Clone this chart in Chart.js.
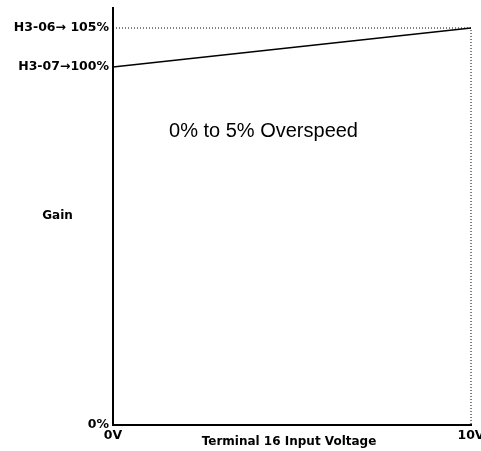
<!DOCTYPE html>
<html>
<head>
<meta charset="utf-8">
<script src="https://cdn.jsdelivr.net/npm/chart.js@4/dist/chart.umd.min.js"></script>
<style>
  html, body { margin: 0; padding: 0; background: #fff; }
  canvas { display: block; }
</style>
</head>
<body>
<canvas id="c" width="481" height="451"></canvas>
<script>
// ---- data ----
const voltage = [0, 10];            // Terminal 16 input voltage (V)
const gain = [100, 105];            // gain (%)
const refVoltage = [0, 10, 10];     // dotted guide
const refGain = [105, 105, 0];
const yTickValues = [0, 100, 105];
const yTickLabels = ['0%', 'H3-07\u2192100%', 'H3-06\u2192 105%'];
const xTickValues = [0, 10];
const xTickLabels = ['0V', '10V'];
const xTitle = 'Terminal 16 Input Voltage';
const yTitle = 'Gain';
const note = '0% to 5% Overspeed';

// ---- piecewise (broken) value axis: value -> fraction of axis height ----
const yStops = [[0, 0], [100, 0.8585], [105, 0.952], [107.56, 1]];

class BrokenScale extends Chart.LinearScale {
  getPixelForValue(v) {
    let f = 0;
    for (let i = 1; i < yStops.length; i++) {
      const [v0, f0] = yStops[i - 1], [v1, f1] = yStops[i];
      if (v <= v1 || i === yStops.length - 1) {
        f = f0 + (v - v0) / (v1 - v0) * (f1 - f0);
        break;
      }
    }
    return this.getPixelForDecimal(f);
  }
  getValueForPixel(p) {
    const f = this.getDecimalForPixel(p);
    for (let i = 1; i < yStops.length; i++) {
      const [v0, f0] = yStops[i - 1], [v1, f1] = yStops[i];
      if (f <= f1 || i === yStops.length - 1) {
        return v0 + (f - f0) / (f1 - f0) * (v1 - v0);
      }
    }
    return 0;
  }
}
BrokenScale.id = 'broken';
BrokenScale.defaults = Chart.LinearScale.defaults;
Chart.register(BrokenScale);

const labelFont = { family: 'DejaVu Sans', size: 12.5, weight: 'bold' };

const textPlugin = {
  id: 'texts',
  afterDraw(chart) {
    const ctx = chart.ctx;
    ctx.save();
    ctx.fillStyle = '#000';
    ctx.textAlign = 'center';
    ctx.textBaseline = 'middle';
    ctx.font = 'bold 12px "DejaVu Sans"';
    ctx.fillText(yTitle, 57.5, 216);
    ctx.fillText(xTitle, 289, 442);
    ctx.font = '20px "Liberation Sans", Arial';
    ctx.fillText(note, 263.5, 131);
    ctx.restore();
  }
};

new Chart(document.getElementById('c'), {
  type: 'line',
  data: {
    datasets: [
      {
        data: voltage.map((x, i) => ({ x, y: gain[i] })),
        borderColor: '#000',
        borderWidth: 1.3,
        pointRadius: 0,
        fill: false,
        clip: false
      },
      {
        data: refVoltage.map((x, i) => ({ x, y: refGain[i] })),
        borderColor: '#000',
        borderWidth: 1,
        borderDash: [1, 2],
        pointRadius: 0,
        fill: false,
        clip: false
      }
    ]
  },
  options: {
    responsive: false,
    animation: false,
    devicePixelRatio: 1,
    layout: { padding: { top: 8, right: 10, left: 0, bottom: 0 } },
    plugins: { legend: { display: false }, tooltip: { enabled: false } },
    scales: {
      x: {
        type: 'linear',
        min: 0, max: 10,
        grid: { display: false, drawTicks: false },
        border: { display: true, color: '#000', width: 2 },
        afterBuildTicks: s => { s.ticks = xTickValues.map(v => ({ value: v })); },
        afterFit: s => { s.height = 26; s.paddingRight = 0; s.paddingLeft = 0; },
        ticks: {
          color: '#000', font: labelFont, padding: 3, maxRotation: 0,
          callback: v => xTickLabels[xTickValues.indexOf(v)]
        }
      },
      y: {
        type: 'broken',
        min: 0, max: 107.56,
        grid: { display: false, drawTicks: false },
        border: { display: true, color: '#000', width: 2 },
        afterBuildTicks: s => { s.ticks = yTickValues.map(v => ({ value: v })); },
        afterFit: s => { s.width = 113; s.paddingTop = 0; s.paddingBottom = 0; },
        ticks: {
          color: '#000', font: labelFont, padding: 4,
          callback: v => yTickLabels[yTickValues.indexOf(v)]
        }
      }
    }
  },
  plugins: [textPlugin]
});
</script>
</body>
</html>
